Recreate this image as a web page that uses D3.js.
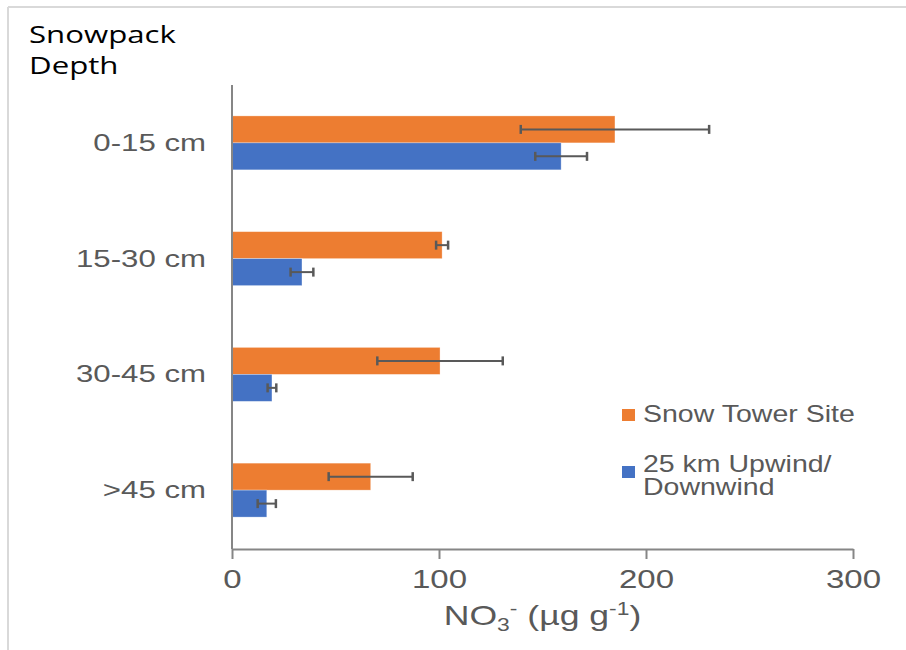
<!DOCTYPE html>
<html>
<head>
<meta charset="utf-8">
<script src="https://cdn.jsdelivr.net/npm/d3@7"></script>
<style>
  body { margin: 0; background: #fff; }
  svg { display: block; }
</style>
</head>
<body>
<svg id="chart" width="906" height="650"></svg>
<script>
// depth layers, top to bottom
let categories = ["0-15 cm", "15-30 cm", "30-45 cm", ">45 cm"];

// NO3- concentrations (ug/g) and their error bars
let snowTower = [185, 101.5, 100.5, 67];
let snowTowerErr = [45.5, 2.9, 30.3, 20.3];
let upwind = [159, 33.8, 19.3, 16.8];
let upwindErr = [12.5, 5.5, 2.1, 4.4];

let seriesKeys = ["tower", "upwind"];
let xTicks = [0, 100, 200, 300];

let colors = {tower: "#ED7D31", upwind: "#4472C4"};
let stretch = 1.27; // the picture is widened, so text is too
let grey = "#595959";

let svg = d3.select("#chart");

// chart frame (light border top and left)
svg.append("line").attr("x1", 8).attr("x2", 906).attr("y1", 7).attr("y2", 7)
    .attr("stroke", "#d9d9d9").attr("stroke-width", 2);
svg.append("line").attr("x1", 8).attr("x2", 8).attr("y1", 7).attr("y2", 650)
    .attr("stroke", "#d9d9d9").attr("stroke-width", 2);

let x = d3.scaleLinear().domain([0, 300]).range([232, 853]);

let y0 = d3.scaleBand()
    .domain(categories)
    .range([85, 548])
    .paddingInner(0.534)
    .paddingOuter(0.267);

let y1 = d3.scaleBand()
    .domain(seriesKeys)
    .range([0, y0.bandwidth()]);

let rows = categories.map((c, i) => {
    return {
        cat: c,
        values: [
            {key: "tower", value: snowTower[i], err: snowTowerErr[i]},
            {key: "upwind", value: upwind[i], err: upwindErr[i]}
        ]
    };
});

// bars
let groups = svg.append("g")
    .selectAll("g")
    .data(rows)
    .enter().append("g")
    .attr("transform", d => "translate(0," + y0(d.cat) + ")");

groups.selectAll("rect")
    .data(d => d.values)
    .enter().append("rect")
    .attr("x", x(0))
    .attr("y", d => y1(d.key))
    .attr("width", d => x(d.value) - x(0))
    .attr("height", y1.bandwidth())
    .attr("fill", d => colors[d.key])
    .attr("stroke", "#fff")
    .attr("stroke-opacity", 0.4)
    .attr("stroke-width", 0.75);

// error bars
let errs = groups.selectAll("g.err")
    .data(d => d.values)
    .enter().append("g")
    .attr("class", "err")
    .attr("transform", d => "translate(0," + (y1(d.key) + y1.bandwidth() / 2) + ")")
    .attr("stroke", grey)
    .attr("stroke-width", 2);

errs.append("line")
    .attr("x1", d => x(d.value - d.err))
    .attr("x2", d => x(d.value + d.err))
    .attr("y1", 0).attr("y2", 0);
errs.append("line")
    .attr("x1", d => x(d.value - d.err))
    .attr("x2", d => x(d.value - d.err))
    .attr("y1", -4.5).attr("y2", 4.5)
    .attr("stroke-width", 2.5);
errs.append("line")
    .attr("x1", d => x(d.value + d.err))
    .attr("x2", d => x(d.value + d.err))
    .attr("y1", -4.5).attr("y2", 4.5)
    .attr("stroke-width", 2.5);

// x axis
let xAxis = svg.append("g")
    .attr("transform", "translate(0,549)")
    .call(d3.axisBottom(x).tickValues(xTicks).tickSize(10).tickSizeOuter(0));
xAxis.select(".domain").attr("stroke", "#868686").attr("stroke-width", 2);
xAxis.selectAll(".tick line").attr("stroke", "#868686").attr("stroke-width", 2);
xAxis.selectAll(".tick text")
    .attr("x", 0).attr("y", 0).attr("dy", null)
    .attr("transform", "translate(0,39) scale(" + stretch + ",1)")
    .attr("fill", grey)
    .attr("font-family", "'Liberation Sans', Arial, sans-serif")
    .attr("font-size", 26);

// y axis (category labels, no ticks)
let yAxis = svg.append("g")
    .attr("transform", "translate(232,0)")
    .call(d3.axisLeft(y0).tickSize(0).tickSizeOuter(0));
yAxis.select(".domain").attr("stroke", "#868686").attr("stroke-width", 2)
    .attr("d", "M0,85V549");
yAxis.selectAll(".tick text")
    .attr("x", 0).attr("dy", null).attr("y", 0)
    .attr("transform", "translate(-26,8) scale(1.3,1)")
    .attr("fill", grey)
    .attr("font-family", "'Liberation Sans', Arial, sans-serif")
    .attr("font-size", 24);

// axis titles
let xTitle = svg.append("text")
    .attr("transform", "translate(" + ((x(0) + x(300)) / 2) + ",625) scale(" + stretch + ",1)")
    .attr("text-anchor", "middle")
    .attr("fill", grey)
    .attr("font-family", "'Liberation Sans', Arial, sans-serif")
    .attr("font-size", 28);
xTitle.append("tspan").text("NO");
xTitle.append("tspan").attr("font-size", 18).attr("dy", 6).text("3");
xTitle.append("tspan").attr("font-size", 18).attr("dy", -16).text("-");
xTitle.append("tspan").attr("dy", 10).text(" (\u00B5g g");
xTitle.append("tspan").attr("font-size", 18).attr("dy", -10).text("-1");
xTitle.append("tspan").attr("dy", 10).text(")");

let yTitle = svg.append("text")
    .attr("transform", "translate(29,43) scale(1.3,1)")
    .attr("fill", "#000")
    .attr("font-family", "'Open Sans', 'Noto Sans', sans-serif")
    .attr("font-size", 24);
yTitle.append("tspan").attr("x", 0).attr("y", 0).text("Snowpack");
yTitle.append("tspan").attr("x", 0).attr("y", 31).text("Depth");

// legend
let legendData = [
    {key: "tower", lines: ["Snow Tower Site"], top: 409},
    {key: "upwind", lines: ["25 km Upwind/", "Downwind"], top: 466}
];

let legend = svg.append("g")
    .selectAll("g")
    .data(legendData)
    .enter().append("g");

legend.append("rect")
    .attr("x", 622)
    .attr("y", d => d.top)
    .attr("width", 13)
    .attr("height", 12)
    .attr("fill", d => colors[d.key]);

legend.append("text")
    .attr("transform", d => "translate(643," + (d.lines.length > 1 ? 472 : 421.5) + ") scale(1.24,1)")
    .attr("fill", grey)
    .attr("font-family", "'Liberation Sans', Arial, sans-serif")
    .attr("font-size", 23)
    .selectAll("tspan")
    .data(d => d.lines)
    .enter().append("tspan")
    .attr("x", 0)
    .attr("y", (d, i) => i * 23.5)
    .text(d => d);
</script>
</body>
</html>
